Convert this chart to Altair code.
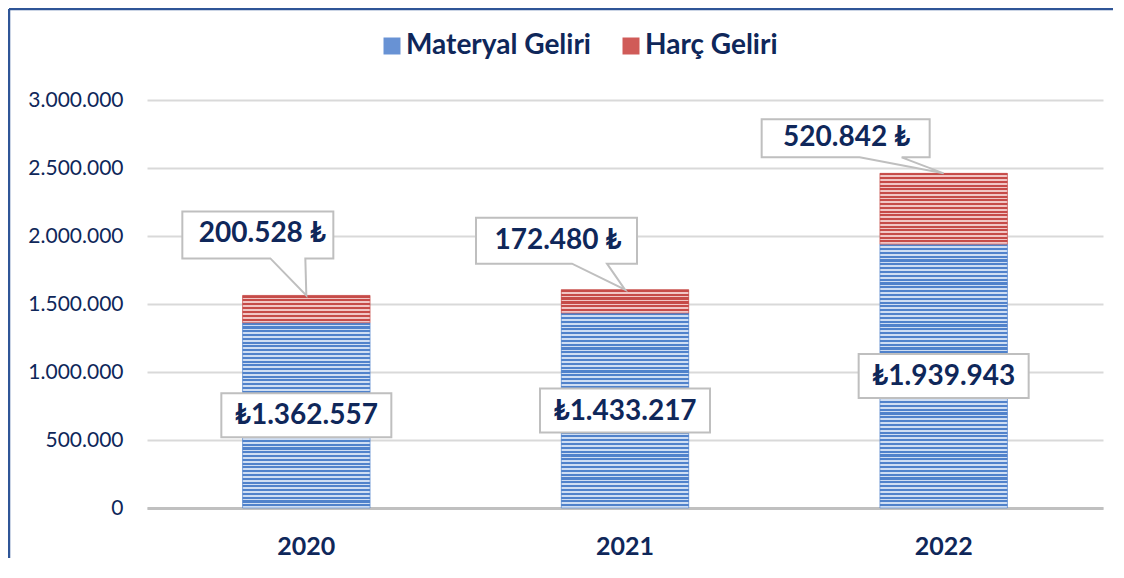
import altair as alt
import pandas as pd

# ---- data ----
years = ["2020", "2021", "2022"]
materyal = [1362557, 1433217, 1939943]
harc = [200528, 172480, 520842]
series = ["Materyal Geliri", "Harç Geliri"]
y_ticks = [0, 500000, 1000000, 1500000, 2000000, 2500000, 3000000]


def tr(n):
    return f"{n:,}".replace(",", ".")


rows = []
for yr, m, h in zip(years, materyal, harc):
    rows.append(dict(year=yr, series=series[0], start=0, end=m, mid=m / 2, label="₺" + tr(m)))
    rows.append(dict(year=yr, series=series[1], start=m, end=m + h, mid=m + h / 2, label=tr(h) + " ₺"))
df = pd.DataFrame(rows)

# ---- style ----
W, H = 956, 408
YMAX = 3000000
NAVY = "#0f275a"
FONT = "Lato"
BLUE_D, BLUE_L = "#5082cb", "#cfdef3"
RED_D, RED_L = "#c64b48", "#f1c6c5"
PERIOD = 3.8
DARK_FRAC = 0.55

x_enc = alt.X(
    "year:N", sort=years,
    scale=alt.Scale(paddingInner=0.6, paddingOuter=0.3),
    axis=alt.Axis(title=None, labelFontSize=25, labelFontWeight="bold", labelColor=NAVY,
                  labelFont=FONT, labelPadding=26, ticks=False, tickSize=0,
                  domainColor="#c0c0c0", domainWidth=3, labelAngle=0),
)
y_enc = alt.Y(
    "start:Q", scale=alt.Scale(domain=[0, YMAX], nice=False),
    axis=alt.Axis(title=None, values=y_ticks,
                  labelExpr="replace(format(datum.value, ',d'), /,/g, '.')",
                  labelFontSize=21, labelColor=NAVY, labelFont=FONT, labelPadding=24,
                  ticks=False, tickSize=0, domain=False, gridColor="#d9d9d9", gridWidth=2),
)
x_plain = alt.X("year:N", sort=years)

base = alt.Chart(df).mark_bar().encode(
    x=x_enc, y=y_enc, y2="end:Q",
    color=alt.Color(
        "series:N", sort=series,
        scale=alt.Scale(domain=series, range=["#6892d4", "#d05b58"]),
        legend=alt.Legend(title=None, orient="none", direction="horizontal",
                          legendX=231, legendY=-68, symbolType="square", symbolSize=289,
                          symbolStrokeWidth=0, symbolOpacity=1, labelFontSize=28,
                          labelFontWeight="bold", labelColor=NAVY, labelFont=FONT,
                          labelOffset=0, columnPadding=26, padding=0, labelLimit=500),
    ),
)


def stripes(dark, light, n):
    stops = []
    for i in range(n):
        a, b, c = i / n, (i + DARK_FRAC) / n, (i + 1) / n
        stops += [alt.GradientStop(color=dark, offset=a), alt.GradientStop(color=dark, offset=b),
                  alt.GradientStop(color=light, offset=b), alt.GradientStop(color=light, offset=min(c, 1.0))]
    return alt.LinearGradient(gradient="linear", stops=stops, x1=0, y1=0, x2=0, y2=1)


layers = [base]
for r in rows:
    px = (r["end"] - r["start"]) / YMAX * H
    n = max(1, round(px / PERIOD))
    dark, light = (BLUE_D, BLUE_L) if r["series"] == series[0] else (RED_D, RED_L)
    layers.append(
        alt.Chart(df)
        .transform_filter(f"datum.year == '{r['year']}' && datum.series == '{r['series']}'")
        .mark_bar(fill=stripes(dark, light, n), stroke=dark, strokeWidth=1, strokeOpacity=0.6)
        .encode(x=x_plain, y="start:Q", y2="end:Q")
    )

# material labels (boxes centred in segment)
mat_box = "M-85,-22L85,-22L85,22L-85,22Z"
layers.append(
    alt.Chart(df).transform_filter(f"datum.series == '{series[0]}'")
    .mark_point(shape=mat_box, size=4, filled=True, fill="white", stroke="#bfbfbf",
                strokeWidth=2, opacity=1)
    .encode(x=x_plain, y="mid:Q")
)
layers.append(
    alt.Chart(df).transform_filter(f"datum.series == '{series[0]}'")
    .mark_text(font=FONT, fontSize=28, fontWeight="bold", color=NAVY, dy=1, baseline="middle")
    .encode(x=x_plain, y="mid:Q", text="label:N")
)

# fee callouts
callouts = {
    "2020": dict(L=-124, T=-84, R=27, B=-37, b1=-36, b2=-1, dx=-44, dy=-61),
    "2021": dict(L=-149, T=-72, R=12, B=-26, b1=-53, b2=-18, dx=-67, dy=-49),
    "2022": dict(L=-182, T=-54, R=-14, B=-16, b1=-84, b2=-42, dx=-97, dy=-35),
}
for yr, c in callouts.items():
    path = (f"M{c['L']},{c['T']}L{c['R']},{c['T']}L{c['R']},{c['B']}L{c['b2']},{c['B']}"
            f"L0,0L{c['b1']},{c['B']}L{c['L']},{c['B']}Z")
    flt = f"datum.year == '{yr}' && datum.series == '{series[1]}'"
    layers.append(
        alt.Chart(df).transform_filter(flt)
        .mark_point(shape=path, size=4, filled=True, fill="white", stroke="#bfbfbf",
                    strokeWidth=2, opacity=1)
        .encode(x=x_plain, y="end:Q")
    )
    layers.append(
        alt.Chart(df).transform_filter(flt)
        .mark_text(font=FONT, fontSize=28, fontWeight="bold", color=NAVY,
                   dx=c["dx"], dy=c["dy"], baseline="middle")
        .encode(x=x_plain, y="end:Q", text="label:N")
    )

# outer frame
frame = pd.DataFrame({"k": [0]})
layers.append(alt.Chart(frame).mark_rule(color="#2f5597", strokeWidth=2.5)
              .encode(x=alt.value(-138), y=alt.value(-91), y2=alt.value(480)))
layers.append(alt.Chart(frame).mark_rule(color="#2f5597", strokeWidth=2.5)
              .encode(x=alt.value(-138), x2=alt.value(975), y=alt.value(-91)))

chart = (
    alt.layer(*layers)
    .properties(width=W, height=H,
                autosize=alt.AutoSizeParams(type="none"),
                padding={"left": 139, "top": 92, "right": 10, "bottom": 50},
                background="white")
    .configure_view(stroke=None)
)

chart.save("out.html", embed_options={"renderer": "svg", "actions": False})
